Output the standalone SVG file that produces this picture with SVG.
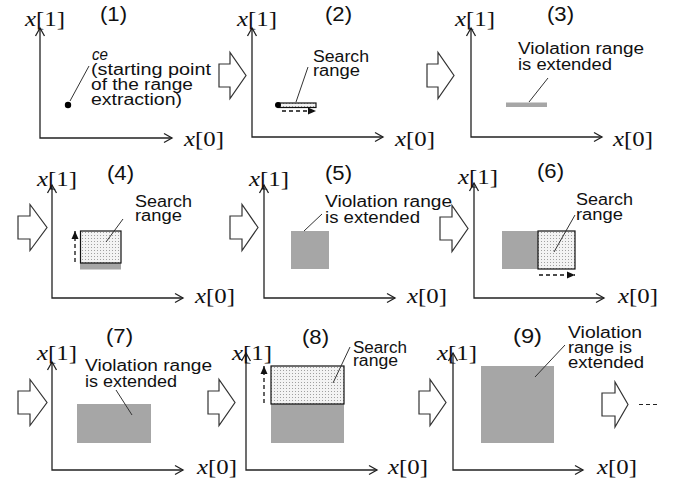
<svg xmlns="http://www.w3.org/2000/svg" width="676" height="487" viewBox="0 0 676 487">
<style>
.lbl{font-family:"Liberation Sans",Arial,sans-serif;font-size:16px;fill:#111}
.num{font-family:"Liberation Sans",Arial,sans-serif;font-size:20px;fill:#111}
.ax{font-family:"Liberation Serif","Times New Roman",serif;font-size:22px;fill:#111}
.axis{stroke:#222;stroke-width:1.3;fill:none;marker-start:url(#open);marker-end:url(#open)}
.ldr{stroke:#333;stroke-width:1;fill:none}
.vio{fill:#a6a6a6}
.srch{fill:url(#dots);stroke:#111;stroke-width:1.2}
.dash{stroke:#111;stroke-width:1.3;stroke-dasharray:4 3;fill:none;marker-end:url(#tri)}
.blk{fill:#fff;stroke:#333;stroke-width:1.2}
</style>
<defs>
<marker id="open" markerUnits="userSpaceOnUse" markerWidth="12" markerHeight="12" refX="10" refY="6" orient="auto-start-reverse" viewBox="0 0 12 12">
<path d="M2,1.5 L10,6 L2,10.5" fill="none" stroke="#222" stroke-width="1.3"/>
</marker>
<marker id="tri" markerUnits="userSpaceOnUse" markerWidth="10" markerHeight="10" refX="8" refY="5" orient="auto" viewBox="0 0 10 10">
<path d="M0,1.5 L8,5 L0,8.5 Z" fill="#111"/>
</marker>
<pattern id="dots" width="3" height="3" patternUnits="userSpaceOnUse">
<rect width="3" height="3" fill="#f3f3f3"/>
<rect x="1" y="1" width="1" height="1" fill="#a0a0a0"/>
</pattern>
</defs>

<g id="connectors">
<path class="blk" d="M219,64 H230 V52.5 L246,75.5 L230,98.5 V87 H219 Z"/>
<path class="blk" d="M427,64 H438 V52.5 L454,75.5 L438,98.5 V87 H427 Z"/>
<path class="blk" d="M18,216 H30 V204.5 L47,227.5 L30,250.5 V239 H18 Z"/>
<path class="blk" d="M230,216 H242 V204.5 L258,227.5 L242,250.5 V239 H230 Z"/>
<path class="blk" d="M440,217 H452 V205.5 L468,228.5 L452,251.5 V240 H440 Z"/>
<path class="blk" d="M18,391 H30 V379.5 L47,402.5 L30,425.5 V414 H18 Z"/>
<path class="blk" d="M208,391 H219 V379.5 L235,402.5 L219,425.5 V414 H208 Z"/>
<path class="blk" d="M419,391 H430 V379.5 L446,402.5 L430,425.5 V414 H419 Z"/>
<path class="blk" d="M602,393 H615 V382 L628,404.5 L615,427 V416 H602 Z"/>
<path d="M639,404.5 H658" stroke="#222" stroke-width="1.2" stroke-dasharray="4 3"/>
</g>

<g id="panel1">
<path class="axis" d="M40,28 V138 H172"/>
<text class="ax" x="25" y="26" textLength="40" lengthAdjust="spacingAndGlyphs"><tspan font-style="italic">x</tspan>[1]</text>
<text class="ax" x="184" y="146" textLength="40" lengthAdjust="spacingAndGlyphs"><tspan font-style="italic">x</tspan>[0]</text>
<text class="num" x="100" y="21" textLength="27" lengthAdjust="spacingAndGlyphs">(1)</text>
<circle cx="68" cy="105" r="3.2" fill="#000"/>
<path class="ldr" d="M70,101 L89,66"/>
<text class="lbl" x="92" y="60" font-style="italic" textLength="16" lengthAdjust="spacingAndGlyphs">ce</text>
<text class="lbl" x="91" y="75" textLength="120" lengthAdjust="spacingAndGlyphs">(starting point</text>
<text class="lbl" x="91" y="90" textLength="102" lengthAdjust="spacingAndGlyphs">of the range</text>
<text class="lbl" x="91" y="105" textLength="91" lengthAdjust="spacingAndGlyphs">extraction)</text>
</g>

<g id="panel2">
<path class="axis" d="M252,28 V137 H383"/>
<text class="ax" x="237" y="26" textLength="40" lengthAdjust="spacingAndGlyphs"><tspan font-style="italic">x</tspan>[1]</text>
<text class="ax" x="395" y="146" textLength="40" lengthAdjust="spacingAndGlyphs"><tspan font-style="italic">x</tspan>[0]</text>
<text class="num" x="325" y="21" textLength="27" lengthAdjust="spacingAndGlyphs">(2)</text>
<rect class="srch" x="278" y="103" width="38" height="4.5"/>
<circle cx="278" cy="105" r="3" fill="#000"/>
<path class="dash" d="M282,111 H316"/>
<path class="ldr" d="M296,102 L308,67"/>
<text class="lbl" x="313" y="61.5" textLength="56" lengthAdjust="spacingAndGlyphs">Search</text>
<text class="lbl" x="313" y="75.5" textLength="47" lengthAdjust="spacingAndGlyphs">range</text>
</g>

<g id="panel3">
<path class="axis" d="M471,28 V137 H602"/>
<text class="ax" x="455" y="26" textLength="40" lengthAdjust="spacingAndGlyphs"><tspan font-style="italic">x</tspan>[1]</text>
<text class="ax" x="613" y="146" textLength="40" lengthAdjust="spacingAndGlyphs"><tspan font-style="italic">x</tspan>[0]</text>
<text class="num" x="547" y="21" textLength="27" lengthAdjust="spacingAndGlyphs">(3)</text>
<rect class="vio" x="506" y="102.5" width="41" height="4.5"/>
<path class="ldr" d="M529,102 L548,78"/>
<text class="lbl" x="518" y="53.5" textLength="126" lengthAdjust="spacingAndGlyphs">Violation range</text>
<text class="lbl" x="518" y="70" textLength="94" lengthAdjust="spacingAndGlyphs">is extended</text>
</g>

<g id="panel4">
<path class="axis" d="M52,185 V298 H183"/>
<text class="ax" x="37" y="186" textLength="40" lengthAdjust="spacingAndGlyphs"><tspan font-style="italic">x</tspan>[1]</text>
<text class="ax" x="195" y="303" textLength="40" lengthAdjust="spacingAndGlyphs"><tspan font-style="italic">x</tspan>[0]</text>
<text class="num" x="107" y="180" textLength="27" lengthAdjust="spacingAndGlyphs">(4)</text>
<rect class="vio" x="80" y="263" width="41" height="6.5"/>
<rect class="srch" x="80.5" y="231" width="40.5" height="32"/>
<path class="dash" d="M75,262 V231"/>
<path class="ldr" d="M106,242 L123,219"/>
<text class="lbl" x="135" y="206.5" textLength="57" lengthAdjust="spacingAndGlyphs">Search</text>
<text class="lbl" x="135" y="220.5" textLength="47" lengthAdjust="spacingAndGlyphs">range</text>
</g>

<g id="panel5">
<path class="axis" d="M264,185 V298 H395"/>
<text class="ax" x="249" y="186" textLength="40" lengthAdjust="spacingAndGlyphs"><tspan font-style="italic">x</tspan>[1]</text>
<text class="ax" x="407" y="303" textLength="40" lengthAdjust="spacingAndGlyphs"><tspan font-style="italic">x</tspan>[0]</text>
<text class="num" x="325" y="180" textLength="27" lengthAdjust="spacingAndGlyphs">(5)</text>
<rect class="vio" x="291" y="231" width="38" height="38"/>
<path class="ldr" d="M304,231 L322,214"/>
<text class="lbl" x="325" y="207" textLength="127" lengthAdjust="spacingAndGlyphs">Violation range</text>
<text class="lbl" x="325" y="223" textLength="95" lengthAdjust="spacingAndGlyphs">is extended</text>
</g>

<g id="panel6">
<path class="axis" d="M474,183 V298 H604"/>
<text class="ax" x="458" y="184" textLength="40" lengthAdjust="spacingAndGlyphs"><tspan font-style="italic">x</tspan>[1]</text>
<text class="ax" x="618" y="303" textLength="40" lengthAdjust="spacingAndGlyphs"><tspan font-style="italic">x</tspan>[0]</text>
<text class="num" x="537" y="178" textLength="27" lengthAdjust="spacingAndGlyphs">(6)</text>
<rect class="vio" x="502" y="231" width="36" height="38"/>
<rect class="srch" x="538" y="231" width="37" height="38"/>
<path class="dash" d="M539,275 H575"/>
<path class="ldr" d="M554,252 L575,215"/>
<text class="lbl" x="576" y="205" textLength="57" lengthAdjust="spacingAndGlyphs">Search</text>
<text class="lbl" x="576" y="219.5" textLength="47" lengthAdjust="spacingAndGlyphs">range</text>
</g>

<g id="panel7">
<path class="axis" d="M52,362 V470 H183"/>
<text class="ax" x="37" y="360" textLength="40" lengthAdjust="spacingAndGlyphs"><tspan font-style="italic">x</tspan>[1]</text>
<text class="ax" x="197" y="474" textLength="40" lengthAdjust="spacingAndGlyphs"><tspan font-style="italic">x</tspan>[0]</text>
<text class="num" x="106" y="343" textLength="27" lengthAdjust="spacingAndGlyphs">(7)</text>
<rect class="vio" x="77" y="404" width="74" height="39"/>
<path class="ldr" d="M132,415 L116,390"/>
<text class="lbl" x="85" y="370.5" textLength="127" lengthAdjust="spacingAndGlyphs">Violation range</text>
<text class="lbl" x="85" y="387" textLength="92" lengthAdjust="spacingAndGlyphs">is extended</text>
</g>

<g id="panel8">
<path class="axis" d="M246,353 V470 H377"/>
<text class="ax" x="232" y="360" textLength="40" lengthAdjust="spacingAndGlyphs"><tspan font-style="italic">x</tspan>[1]</text>
<text class="ax" x="388" y="474" textLength="40" lengthAdjust="spacingAndGlyphs"><tspan font-style="italic">x</tspan>[0]</text>
<text class="num" x="302" y="344" textLength="27" lengthAdjust="spacingAndGlyphs">(8)</text>
<rect class="vio" x="271" y="404" width="73" height="39"/>
<rect class="srch" x="271" y="366" width="73" height="38"/>
<path class="dash" d="M264,403 V366"/>
<path class="ldr" d="M333,383 L350,347"/>
<text class="lbl" x="353" y="352.5" textLength="54" lengthAdjust="spacingAndGlyphs">Search</text>
<text class="lbl" x="353" y="366" textLength="45" lengthAdjust="spacingAndGlyphs">range</text>
</g>

<g id="panel9">
<path class="axis" d="M453,353 V470 H583"/>
<text class="ax" x="437" y="360" textLength="40" lengthAdjust="spacingAndGlyphs"><tspan font-style="italic">x</tspan>[1]</text>
<text class="ax" x="597" y="474" textLength="40" lengthAdjust="spacingAndGlyphs"><tspan font-style="italic">x</tspan>[0]</text>
<text class="num" x="513" y="343" textLength="29" lengthAdjust="spacingAndGlyphs">(9)</text>
<rect class="vio" x="481" y="366" width="73" height="77"/>
<path class="ldr" d="M535,377 L565,345"/>
<text class="lbl" x="568" y="337.5" textLength="74" lengthAdjust="spacingAndGlyphs">Violation</text>
<text class="lbl" x="568" y="352.5" textLength="64" lengthAdjust="spacingAndGlyphs">range is</text>
<text class="lbl" x="568" y="367.5" textLength="76" lengthAdjust="spacingAndGlyphs">extended</text>
</g>
</svg>
